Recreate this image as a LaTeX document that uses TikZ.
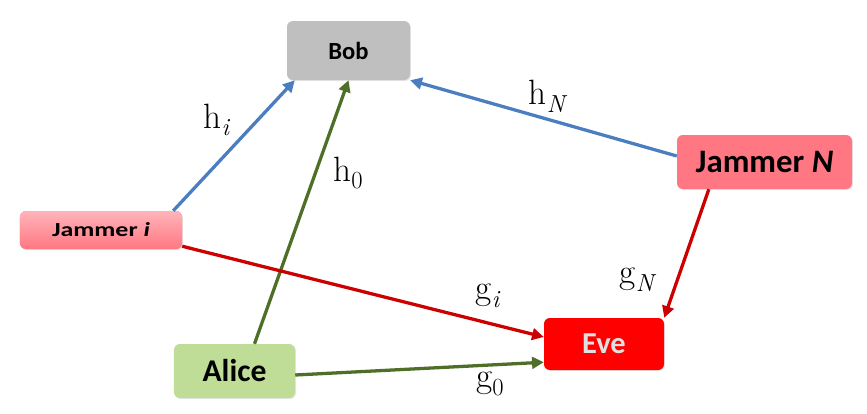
\documentclass[tikz,border=0pt]{standalone}
\usepackage{fontspec}
\setmainfont{Carlito}
\newfontfamily\gainfont{Latin Modern Roman}
\usetikzlibrary{arrows.meta, positioning, shadows}

\definecolor{bobgray}{RGB}{191,191,191}
\definecolor{jampink}{RGB}{255,119,130}
\definecolor{evered}{RGB}{255,0,0}
\definecolor{alicegreen}{RGB}{192,221,152}
\definecolor{linkblue}{RGB}{74,126,193}
\definecolor{linkgreen}{RGB}{79,111,40}
\definecolor{linkred}{RGB}{204,0,0}

% channel gain with a lowered index
\newcommand{\gain}[2]{#1\raisebox{-0.22em}{\fontsize{21}{24}\selectfont #2}}

\begin{document}
\begin{tikzpicture}[x=0.03cm, y=-0.03cm,
  box/.style={rounded corners=5pt, inner sep=0pt, font=\bfseries,
    drop shadow={opacity=0.2, shadow xshift=0.8pt, shadow yshift=-0.8pt}},
  link/.style={line width=2.8pt, -{Triangle[length=10pt, width=10pt]}},
  lbl/.style={inner sep=1pt, font=\gainfont\fontsize{30}{34}\selectfont}]
\useasboundingbox (0,0) rectangle (867,413);

% the five parties
\node[box, fill=bobgray, minimum width=3.69cm, minimum height=1.77cm,
  font=\bfseries\fontsize{21}{25}\selectfont] (bob) at (348.5,50.5) {Bob};
\node[box, fill=jampink, top color=jampink!55!white, bottom color=jampink,
  minimum width=4.86cm, minimum height=1.14cm,
  font=\bfseries\fontsize{17}{20}\selectfont] (jami) at (101,230)
  {\scalebox{1.3}[1]{Jammer \textit{i}}};
\node[box, fill=jampink, minimum width=5.25cm, minimum height=1.62cm,
  font=\bfseries\fontsize{28}{32}\selectfont] (jamN) at (764.5,162) {Jammer \textit{N}};
\node[box, fill=evered, text=black!12, minimum width=3.6cm, minimum height=1.56cm,
  font=\bfseries\fontsize{26}{30}\selectfont] (eve) at (604,344) {Eve};
\node[box, fill=alicegreen, minimum width=3.63cm, minimum height=1.62cm,
  font=\bfseries\fontsize{27}{32}\selectfont] (alice) at (234.5,371) {Alice};

% channels to Bob
\draw[link, linkblue] ([xshift=-0.27cm]jami.north east) -- ([xshift=0.24cm]bob.south west);
\draw[link, linkgreen] ([xshift=0.6cm]alice.north) -- (bob.south);
\draw[link, linkblue] ([yshift=0.18cm]jamN.west) -- (bob.south east);

% channels to Eve
\draw[link, linkred] ([xshift=-1.67cm]jamN.south) -- (eve.north east);
\draw[link, linkred] ([yshift=0.09cm]jami.south east) -- ([yshift=0.21cm]eve.west);
\draw[link, linkgreen] ([yshift=-0.12cm]alice.east) -- ([yshift=0.24cm]eve.south west);

% gains
\node[lbl] (hi) at (217,120) {\gain{h}{\textit{i}}};
\node[lbl] (h0) at (348,173) {\gain{h}{0}};
\node[lbl] (hN) at (548,96) {\gain{h}{\textit{N}}};
\node[lbl] (gN) at (638,280) {\gain{g}{\textit{N}}};
\node[lbl] (gi) at (488,296) {\gain{g}{\textit{i}}};
\node[lbl] (g0) at (490,384) {\gain{g}{0}};

\end{tikzpicture}
\end{document}
